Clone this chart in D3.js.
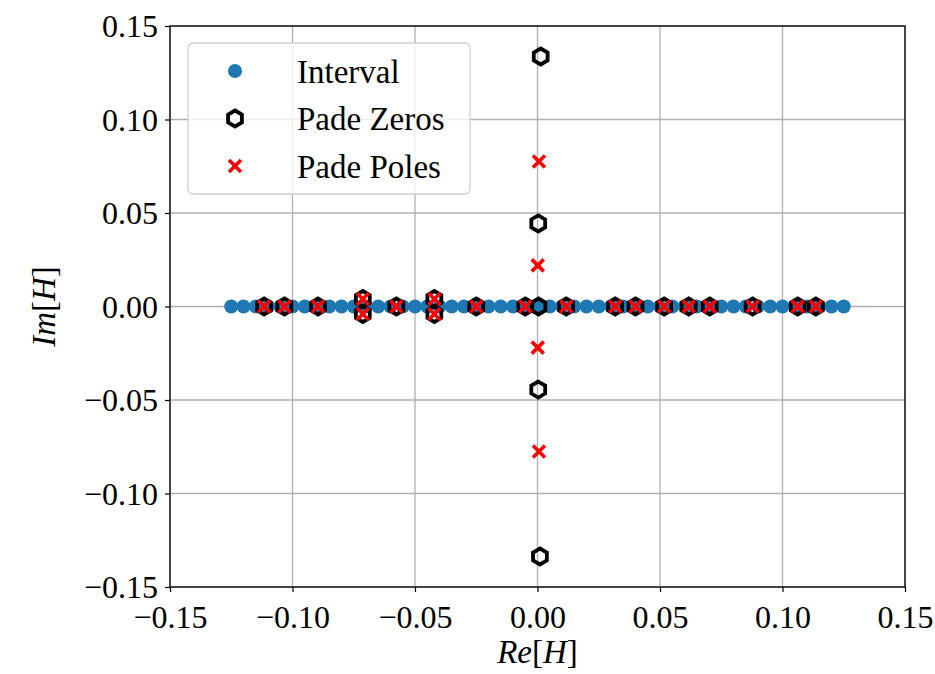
<!DOCTYPE html>
<html>
<head>
<meta charset="utf-8">
<script src="https://cdn.jsdelivr.net/npm/d3@7"></script>
<style>
  html, body { margin: 0; padding: 0; background: #fff; }
  svg { display: block; font-family: "Liberation Serif", "DejaVu Serif", serif; }
</style>
</head>
<body>
<svg id="chart" width="935" height="674"></svg>
<script>
// Interval sample points on the real axis
const intervalRe = [
  -0.125, -0.120, -0.115, -0.110, -0.105, -0.100, -0.095, -0.090, -0.085, -0.080,
  -0.075, -0.070, -0.065, -0.060, -0.055, -0.050, -0.045, -0.040, -0.035, -0.030,
  -0.025, -0.020, -0.015, -0.010, -0.005, 0.000, 0.005, 0.010, 0.015, 0.020,
  0.025, 0.030, 0.035, 0.040, 0.045, 0.050, 0.055, 0.060, 0.065, 0.070,
  0.075, 0.080, 0.085, 0.090, 0.095, 0.100, 0.105, 0.110, 0.115, 0.120, 0.125
];
const intervalIm = intervalRe.map(() => 0);

// Pade approximant zeros (real, imaginary)
const zerosRe = [-0.1116, -0.1033, -0.0896, -0.0713, -0.0713, -0.0576, -0.0421, -0.0421,
  -0.0250, -0.0050, 0.0004, 0.0117, 0.0317, 0.0400, 0.0517, 0.0617, 0.0703, 0.0878,
  0.1062, 0.1136, 0.0013, 0.0003, 0.0010, 0.0003];
const zerosIm = [0, 0, 0, 0.004, -0.004, 0, 0.004, -0.004,
  0, 0, 0, 0, 0, 0, 0, 0, 0, 0,
  0, 0, 0.1337, 0.0444, -0.1337, -0.0444];

// Pade approximant poles (real, imaginary)
const polesRe = [-0.1116, -0.1033, -0.0896, -0.0713, -0.0713, -0.0576, -0.0421, -0.0421,
  -0.0250, -0.0050, 0.0117, 0.0317, 0.0400, 0.0517, 0.0617, 0.0703, 0.0878,
  0.1062, 0.1136, 0.0006, 0.0001, 0.0001, 0.0006];
const polesIm = [0, 0, 0, 0.004, -0.004, 0, 0.004, -0.004,
  0, 0, 0, 0, 0, 0, 0, 0, 0,
  0, 0, 0.0775, 0.0220, -0.0220, -0.0775];

const xTicks = [-0.15, -0.10, -0.05, 0.00, 0.05, 0.10, 0.15];
const yTicks = [-0.15, -0.10, -0.05, 0.00, 0.05, 0.10, 0.15];
const legendLabels = ["Interval", "Pade Zeros", "Pade Poles"];

(function draw() {
  const svg = d3.select("#chart");
  const mLeft = 170, mRight = 905, mTop = 26, mBottom = 587;

  const x = d3.scaleLinear().domain([-0.15, 0.15]).range([mLeft, mRight]);
  const y = d3.scaleLinear().domain([-0.15, 0.15]).range([mBottom, mTop]);

  const fmt = v => {
    const s = Math.abs(v).toFixed(2);
    return v < -1e-9 ? "\u2212" + s : s;
  };

  // grid
  const grid = svg.append("g");
  grid.selectAll("line.gx").data(xTicks).join("line")
    .attr("x1", d => x(d)).attr("x2", d => x(d))
    .attr("y1", mTop).attr("y2", mBottom)
    .attr("stroke", "#b0b0b0").attr("stroke-width", 1.3);
  grid.selectAll("line.gy").data(yTicks).join("line")
    .attr("y1", d => y(d)).attr("y2", d => y(d))
    .attr("x1", mLeft).attr("x2", mRight)
    .attr("stroke", "#b0b0b0").attr("stroke-width", 1.3);

  // axes
  const xAxis = svg.append("g").attr("transform", `translate(0,${mBottom})`)
    .call(d3.axisBottom(x).tickValues(xTicks).tickFormat(fmt).tickSize(5).tickPadding(6));
  const yAxis = svg.append("g").attr("transform", `translate(${mLeft},0)`)
    .call(d3.axisLeft(y).tickValues(yTicks).tickFormat(fmt).tickSize(5).tickPadding(7));
  [xAxis, yAxis].forEach(a => {
    a.select(".domain").remove();
    a.selectAll(".tick line").attr("stroke", "#000").attr("stroke-width", 1.2);
    a.selectAll(".tick text").attr("fill", "#000").attr("font-size", 32)
      .attr("font-family", "Liberation Serif, serif");
  });
  xAxis.selectAll(".tick text").attr("dy", "0.93em");
  yAxis.selectAll(".tick text").attr("dy", "0.34em");

  // spines
  svg.append("rect").attr("x", mLeft).attr("y", mTop)
    .attr("width", mRight - mLeft).attr("height", mBottom - mTop)
    .attr("fill", "none").attr("stroke", "#000").attr("stroke-width", 1.3);

  // marker shapes
  const hexPath = r => {
    const pts = d3.range(6).map(k => {
      const a = -Math.PI / 2 + k * Math.PI / 3;
      return [r * Math.cos(a), r * Math.sin(a)];
    });
    return "M" + pts.map(p => p.join(",")).join("L") + "Z";
  };
  const crossPath = s => `M${-s},${-s}L${s},${s}M${-s},${s}L${s},${-s}`;

  const plot = svg.append("g");

  // interval points
  plot.selectAll("circle.iv").data(d3.range(intervalRe.length)).join("circle")
    .attr("cx", i => x(intervalRe[i])).attr("cy", i => y(intervalIm[i]))
    .attr("r", 7).attr("fill", "#1f77b4");

  // zeros
  plot.selectAll("path.z").data(d3.range(zerosRe.length)).join("path")
    .attr("transform", i => `translate(${x(zerosRe[i])},${y(zerosIm[i])})`)
    .attr("d", hexPath(8)).attr("fill", "none")
    .attr("stroke", "#000").attr("stroke-width", 3.8);

  // poles
  plot.selectAll("path.p").data(d3.range(polesRe.length)).join("path")
    .attr("transform", i => `translate(${x(polesRe[i])},${y(polesIm[i])})`)
    .attr("d", crossPath(6)).attr("fill", "none")
    .attr("stroke", "#ff0000").attr("stroke-width", 3.6);

  // legend
  const lg = svg.append("g");
  lg.append("rect").attr("x", 188).attr("y", 43).attr("width", 282).attr("height", 151)
    .attr("rx", 5).attr("fill", "#fff").attr("fill-opacity", 0.8)
    .attr("stroke", "#d0d0d0").attr("stroke-width", 1.3);
  const rowY = [71, 118.5, 166];
  lg.append("circle").attr("cx", 235).attr("cy", rowY[0]).attr("r", 7).attr("fill", "#1f77b4");
  lg.append("path").attr("transform", `translate(235,${rowY[1]})`).attr("d", hexPath(8))
    .attr("fill", "none").attr("stroke", "#000").attr("stroke-width", 3.8);
  lg.append("path").attr("transform", `translate(235,${rowY[2]})`).attr("d", crossPath(6))
    .attr("fill", "none").attr("stroke", "#ff0000").attr("stroke-width", 3.6);
  lg.selectAll("text").data(legendLabels).join("text")
    .attr("x", 297).attr("y", (d, i) => rowY[i]).attr("dy", "0.35em")
    .attr("font-size", 33).attr("fill", "#000").text(d => d);

  // axis titles
  const xl = svg.append("text").attr("x", (mLeft + mRight) / 2).attr("y", 663)
    .attr("text-anchor", "middle").attr("font-size", 33).attr("fill", "#000");
  xl.append("tspan").attr("font-style", "italic").text("Re");
  xl.append("tspan").text("[");
  xl.append("tspan").attr("font-style", "italic").text("H");
  xl.append("tspan").text("]");

  const yl = svg.append("text")
    .attr("transform", `translate(55,${(mTop + mBottom) / 2}) rotate(-90)`)
    .attr("text-anchor", "middle").attr("font-size", 33).attr("fill", "#000");
  yl.append("tspan").attr("font-style", "italic").text("Im");
  yl.append("tspan").text("[");
  yl.append("tspan").attr("font-style", "italic").text("H");
  yl.append("tspan").text("]");
})();
</script>
</body>
</html>
